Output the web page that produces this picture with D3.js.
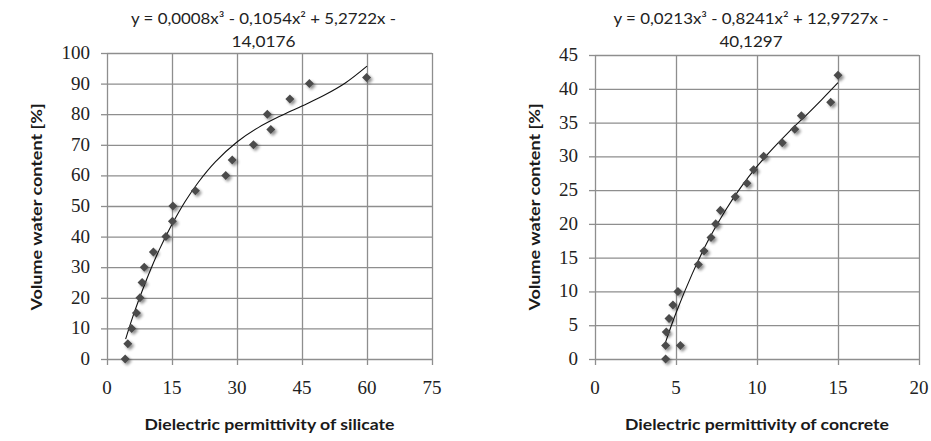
<!DOCTYPE html>
<html>
<head>
<meta charset="utf-8">
<script src="https://cdn.jsdelivr.net/npm/d3@7"></script>
<style>
  body { margin: 0; background: #fff; }
  svg { display: block; }
  .ticklab { font-family: "Liberation Serif", "DejaVu Serif", serif; }
</style>
</head>
<body>
<div class="charts"></div>
<script>
// silicate chart
const silicateX = [4.2, 4.8, 5.7, 6.8, 7.6, 8.1, 8.6, 10.7, 13.6, 15.1, 15.2, 20.4, 27.4, 28.9, 33.8, 37.8, 37.0, 42.2, 46.7, 59.9];
const silicateY = [0, 5, 10, 15, 20, 25, 30, 35, 40, 45, 50, 55, 60, 65, 70, 75, 80, 85, 90, 92];
const silicateTrendX = [4.3, 6, 8, 10, 12, 15, 18, 21, 25, 30, 35, 40, 45, 50, 55, 60];
const silicateTrendY = [6.5, 14, 21.8, 29, 35.5, 44, 51.4, 57.6, 64.4, 70.9, 75.7, 79.4, 82.7, 86.1, 90.2, 95.7];
const silicateXTicks = [0, 15, 30, 45, 60, 75];
const silicateYTicks = [0, 10, 20, 30, 40, 50, 60, 70, 80, 90, 100];
const silicateEquation = ["y = 0,0008x³ - 0,1054x² + 5,2722x -", "14,0176"];

// concrete chart
const concreteX = [4.36, 4.36, 4.4, 4.57, 4.81, 5.12, 5.27, 6.38, 6.73, 7.16, 7.45, 7.74, 8.66, 9.38, 9.79, 10.41, 11.56, 12.33, 12.74, 14.55, 15.0];
const concreteY = [0, 2, 4, 6, 8, 10, 2, 14, 16, 18, 20, 22, 24, 26, 28, 30, 32, 34, 36, 38, 42];
const concreteTrendX = [4.3, 5, 6, 7, 8, 9, 10, 11, 12, 13, 14, 15];
const concreteTrendY = [2.1, 6.8, 12.6, 17.6, 21.8, 25.4, 28.5, 31.2, 33.7, 36.0, 38.4, 40.9];
const concreteXTicks = [0, 5, 10, 15, 20];
const concreteYTicks = [0, 5, 10, 15, 20, 25, 30, 35, 40, 45];
const concreteEquation = ["y = 0,0213x³ - 0,8241x² + 12,9727x -", "40,1297"];

const yTitle = "Volume water content [%]";

function main() {
    const svg = d3.select(".charts")
        .append("svg")
        .attr("width", 931)
        .attr("height", 441);

    // soft shadow behind the markers
    const filter = svg.append("defs").append("filter")
        .attr("id", "shadow")
        .attr("x", "-100%").attr("y", "-100%")
        .attr("width", "300%").attr("height", "300%");
    filter.append("feGaussianBlur").attr("in", "SourceAlpha").attr("stdDeviation", 1.6).attr("result", "b");
    filter.append("feOffset").attr("in", "b").attr("dx", 1.5).attr("dy", 1.5).attr("result", "o");
    filter.append("feComponentTransfer").attr("in", "o").attr("result", "s")
        .append("feFuncA").attr("type", "linear").attr("slope", 0.45);
    const merge = filter.append("feMerge");
    merge.append("feMergeNode").attr("in", "s");
    merge.append("feMergeNode").attr("in", "SourceGraphic");

    drawChart(svg, {
        left: 107, right: 432, top: 53, bottom: 359,
        xs: silicateX, ys: silicateY,
        tx: silicateTrendX, ty: silicateTrendY,
        xTicks: silicateXTicks, yTicks: silicateYTicks,
        equation: silicateEquation, eqWidths: [265, 64],
        xTitle: "Dielectric permittivity of silicate", xTitleWidth: 250,
        yTitleX: 37
    });

    drawChart(svg, {
        left: 595, right: 919, top: 55, bottom: 359,
        xs: concreteX, ys: concreteY,
        tx: concreteTrendX, ty: concreteTrendY,
        xTicks: concreteXTicks, yTicks: concreteYTicks,
        equation: concreteEquation, eqWidths: [275, 63],
        xTitle: "Dielectric permittivity of concrete", xTitleWidth: 264,
        yTitleX: 535
    });
}

function drawChart(svg, c) {
    const x = d3.scaleLinear()
        .domain(d3.extent(c.xTicks))
        .range([c.left, c.right]);
    const y = d3.scaleLinear()
        .domain(d3.extent(c.yTicks))
        .range([c.bottom, c.top]);

    const g = svg.append("g");

    // gridlines (they also close the plot box)
    const xAxis = g.append("g")
        .attr("transform", `translate(0,${c.bottom})`)
        .call(d3.axisBottom(x).tickValues(c.xTicks).tickSize(-(c.bottom - c.top)).tickSizeOuter(0).tickPadding(0));
    const yAxis = g.append("g")
        .attr("transform", `translate(${c.left},0)`)
        .call(d3.axisLeft(y).tickValues(c.yTicks).tickSize(-(c.right - c.left)).tickSizeOuter(0).tickPadding(0));

    [xAxis, yAxis].forEach(a => {
        a.select(".domain").remove();
        a.selectAll(".tick line").attr("stroke", "#8e8e8e").attr("stroke-width", 1.3);
        a.selectAll(".tick text").remove();
    });

    // little outside tick stubs
    xAxis.selectAll(".tick").append("line")
        .attr("y1", 0).attr("y2", 6)
        .attr("stroke", "#8e8e8e").attr("stroke-width", 1.3);
    yAxis.selectAll(".tick").append("line")
        .attr("x1", 0).attr("x2", -6)
        .attr("stroke", "#8e8e8e").attr("stroke-width", 1.3);

    // tick labels
    g.selectAll(".xlab")
        .data(c.xTicks)
        .enter()
        .append("text")
        .attr("class", "ticklab")
        .attr("x", d => x(d))
        .attr("y", c.bottom + 35)
        .attr("text-anchor", "middle")
        .attr("font-size", 19)
        .attr("fill", "#222")
        .text(d => d);

    g.selectAll(".ylab")
        .data(c.yTicks)
        .enter()
        .append("text")
        .attr("class", "ticklab")
        .attr("x", c.left - 17)
        .attr("y", d => y(d) + 6)
        .attr("text-anchor", "end")
        .attr("font-size", 19)
        .attr("fill", "#222")
        .text(d => d);

    // trend line
    const pts = c.tx.map((v, i) => [v, c.ty[i]]);
    g.append("path")
        .datum(pts)
        .attr("fill", "none")
        .attr("stroke", "#111")
        .attr("stroke-width", 1.1)
        .attr("d", d3.line().x(d => x(d[0])).y(d => y(d[1])).curve(d3.curveCatmullRom));

    // markers
    const pts2 = c.xs.map((v, i) => [v, c.ys[i]]);
    g.selectAll(".pt")
        .data(pts2)
        .enter()
        .append("path")
        .attr("d", d3.symbol(d3.symbolDiamond2, 52)())
        .attr("transform", d => `translate(${x(d[0])},${y(d[1])})`)
        .attr("fill", "#4b4b4b")
        .attr("filter", "url(#shadow)");

    // equation
    const cx = (c.left + c.right) / 2 - 6;
    c.equation.forEach((line, i) => {
        g.append("text")
            .attr("x", cx)
            .attr("y", 24 + i * 23)
            .attr("text-anchor", "middle")
            .attr("font-family", "Lato")
            .attr("font-size", 15)
            .attr("fill", "#222")
            .attr("textLength", c.eqWidths[i])
            .attr("lengthAdjust", "spacingAndGlyphs")
            .text(line);
    });

    // axis titles
    g.append("text")
        .attr("x", (c.left + c.right) / 2)
        .attr("y", 430)
        .attr("text-anchor", "middle")
        .attr("font-family", "Lato")
        .attr("font-weight", "bold")
        .attr("font-size", 16)
        .attr("fill", "#1a1a1a")
        .attr("textLength", c.xTitleWidth)
        .attr("lengthAdjust", "spacingAndGlyphs")
        .text(c.xTitle);

    g.append("text")
        .attr("transform", `translate(${c.yTitleX + 5},207) rotate(-90)`)
        .attr("text-anchor", "middle")
        .attr("font-family", "Lato")
        .attr("font-weight", "bold")
        .attr("font-size", 16)
        .attr("fill", "#1a1a1a")
        .attr("textLength", 207)
        .attr("lengthAdjust", "spacingAndGlyphs")
        .text(yTitle);
}

main();
</script>
</body>
</html>
